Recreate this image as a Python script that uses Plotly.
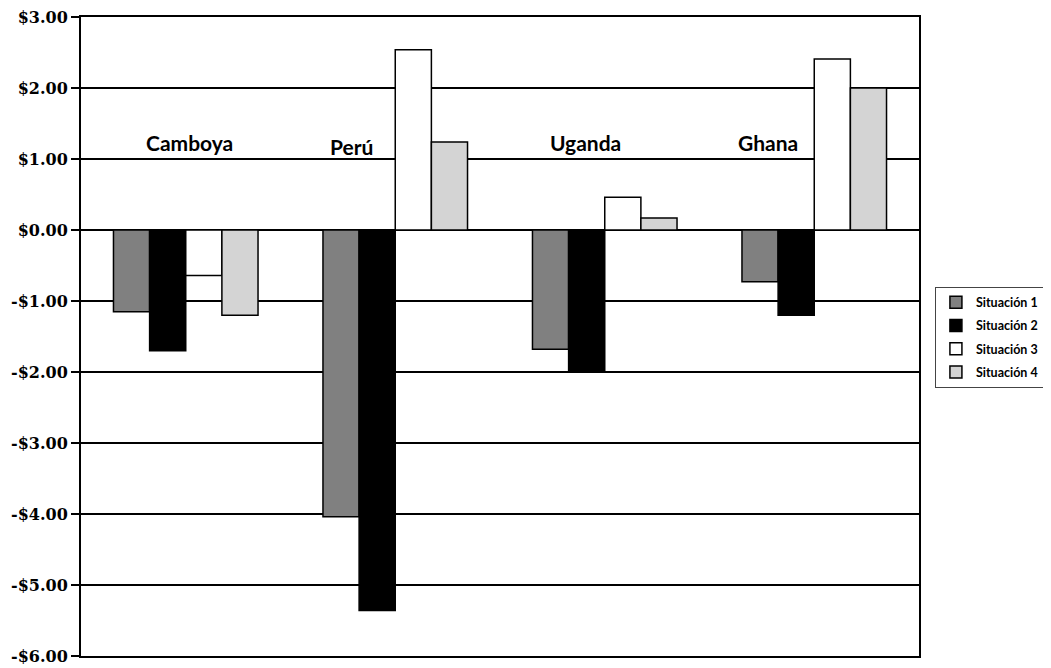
import plotly.graph_objects as go

categories = ["Camboya", "Perú", "Uganda", "Ghana"]
series_names = ["Situación 1", "Situación 2", "Situación 3", "Situación 4"]
sit1 = [-1.15, -4.04, -1.68, -0.73]
sit2 = [-1.70, -5.36, -2.00, -1.20]
sit3 = [-0.64, 2.54, 0.46, 2.41]
sit4 = [-1.20, 1.24, 0.17, 2.00]
series_values = [sit1, sit2, sit3, sit4]
colors = ["#808080", "#000000", "#ffffff", "#d4d4d4"]

tick_vals = [3, 2, 1, 0, -1, -2, -3, -4, -5, -6]
tick_text = ["$3.00", "$2.00", "$1.00", "$0.00", "-$1.00", "-$2.00",
             "-$3.00", "-$4.00", "-$5.00", "-$6.00"]

label_pos = [0.02, 0.79, 1.91, 2.78]
label_y = [1.23, 1.18, 1.23, 1.23]

fig = go.Figure()
for name, vals, col in zip(series_names, series_values, colors):
    fig.add_trace(go.Bar(
        x=list(range(len(categories))), y=vals, name=name,
        marker=dict(color=col, line=dict(color="#000000", width=1.5)),
        legendgroup=name,
    ))

for cat, xp, yp in zip(categories, label_pos, label_y):
    fig.add_annotation(x=xp, y=yp, xref="x", yref="y", text=cat, showarrow=False,
                       font=dict(family="Lato", size=21, color="#000000", weight="bold"))

# page body has an 8px margin, so the figure is sized/offset to compensate
fig.update_layout(
    width=1043, height=660,
    margin=dict(l=73, r=132, t=9, b=12, autoexpand=False),
    paper_bgcolor="white", plot_bgcolor="white",
    barmode="group", bargap=0.31, bargroupgap=0,
    showlegend=True,
    legend=dict(x=1.019, y=0.578, xanchor="left", yanchor="top",
                bordercolor="#444444", borderwidth=1,
                font=dict(family="Lato", size=12.5, color="#000000", weight="bold"),
                tracegroupgap=4, itemwidth=30),
    xaxis=dict(range=[-0.5, 3.5], showticklabels=False, ticks="",
               showgrid=False, zeroline=False, showline=True, linecolor="#000000",
               linewidth=2, mirror=True, automargin=False),
    yaxis=dict(range=[-6, 3], tickvals=tick_vals, ticktext=tick_text,
               showgrid=True, gridcolor="#000000", gridwidth=2,
               zeroline=True, zerolinecolor="#000000", zerolinewidth=2,
               showline=True, linecolor="#000000", linewidth=2, mirror=True,
               ticks="outside", ticklen=8, tickwidth=2, tickcolor="#000000",
               automargin=False, ticklabeloverflow="allow",
               tickfont=dict(family="DejaVu Serif", size=16, color="#000000", weight="bold")),
)

fig.write_html("out.html")
